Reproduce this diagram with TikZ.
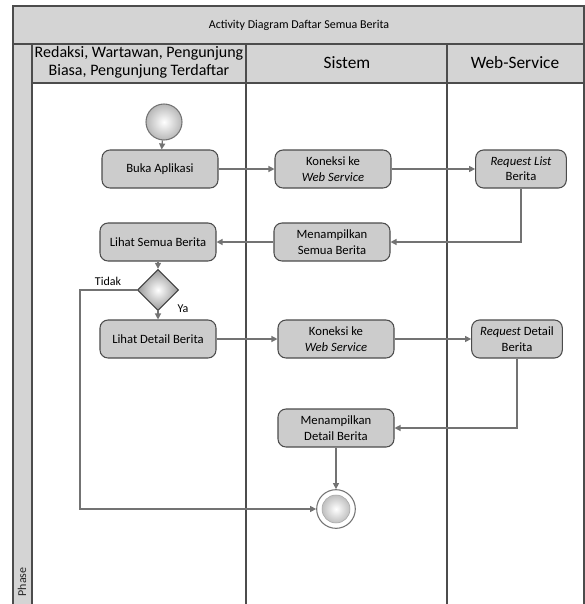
\documentclass[tikz,border=0pt]{standalone}
\usepackage{fontspec}
\setmainfont{Carlito}
\usetikzlibrary{shapes.geometric,arrows.meta}

\tikzset{
  act/.style={rectangle, rounded corners=6pt, draw=black!70, fill=black!20,
    line width=0.8pt, minimum width=87pt, minimum height=28.5pt, align=center,
    inner sep=1pt, font=\fontsize{9.5}{11.5}\selectfont},
  flow/.style={draw=black!55, line width=0.9pt, -{Triangle[length=4.5pt,width=4.5pt]}},
  lane/.style={draw=black!70, line width=0.8pt},
  band/.style={lane, fill=black!17},
  lbl/.style={font=\fontsize{9}{11}\selectfont},
}

\begin{document}
\begin{tikzpicture}[x=0.75pt,y=-0.75pt]
\useasboundingbox (0,0) rectangle (585,604);
% swimlanes
\draw[band] (13,6) rectangle (584,44);
\draw[band] (13,44) rectangle (32,610);
\draw[band] (32,44) rectangle (584,83);
\draw[lane] (246,44) -- (246,610);
\draw[lane] (447,44) -- (447,610);
\draw[lane] (584,83) -- (584,610);
\node[font=\fontsize{9}{10}\selectfont] (title) at (299,25) {Activity Diagram Daftar Semua Berita};
\node[align=center, font=\fontsize{12}{13.5}\selectfont] (laneA) at (139,62) {Redaksi, Wartawan, Pengunjung\\Biasa, Pengunjung Terdaftar};
\node[font=\fontsize{13}{15}\selectfont] (laneB) at (347,63) {Sistem};
\node[font=\fontsize{13}{15}\selectfont] (laneC) at (515,63) {Web-Service};
\node[rotate=90, text=black!85, font=\fontsize{9}{10}\selectfont] (phase) at (22,582) {Phase};

% nodes
\node[circle, draw=black!55, line width=0.8pt, minimum size=27pt, shading=radial,
  inner color=white, outer color=black!28] (start) at (164,122) {};
\node[act] (buka) at (160,169) {Buka Aplikasi};
\node[act] (kon1) at (333,169) {Koneksi ke\\\textit{Web Service}};
\node[act, minimum width=68pt] (reqlist) at (521,169) {\textit{Request List}\\Berita};
\node[act] (tampilsemua) at (332,242) {Menampilkan\\Semua Berita};
\node[act] (lihatsemua) at (158,242) {Lihat Semua Berita};
\node[diamond, draw=black!75, line width=0.8pt, minimum size=31pt, inner sep=0pt,
  shading=radial, inner color=white, outer color=black!40] (dec) at (158,290) {};
\node[act] (lihatdetail) at (158,339) {Lihat Detail Berita};
\node[act] (kon2) at (336,339) {Koneksi ke\\\textit{Web Service}};
\node[act, minimum width=68pt] (reqdetail) at (517,339) {\textit{Request} Detail\\Berita};
\node[act] (tampildetail) at (336,428) {Menampilkan\\Detail Berita};
\node[circle, draw=black!55, line width=0.8pt, fill=white, minimum size=29pt] (fin) at (336,509) {};
\node[circle, draw=black!35, minimum size=21pt, shading=radial,
  inner color=white, outer color=black!25] (fincore) at (fin) {};
\coordinate (tidakbend) at (80,290);

% flows
\draw[flow] (start) -- (buka);
\draw[flow] (buka) -- (kon1);
\draw[flow] (kon1) -- (reqlist);
\draw[flow] (reqlist.south) |- (tampilsemua.east);
\draw[flow] (tampilsemua) -- (lihatsemua);
\draw[flow] (lihatsemua) -- (dec);
\draw[flow] (dec) -- (lihatdetail);
\draw[flow] (dec.west) -- (tidakbend) |- (fin.west);
\draw[flow] (lihatdetail) -- (kon2);
\draw[flow] (kon2) -- (reqdetail);
\draw[flow] (reqdetail.south) |- (tampildetail.east);
\draw[flow] (tampildetail) -- (fin);
\node[lbl] (tidak) at (108,281) {Tidak};
\node[lbl] (ya) at (183,309) {Ya};
\end{tikzpicture}
\end{document}
